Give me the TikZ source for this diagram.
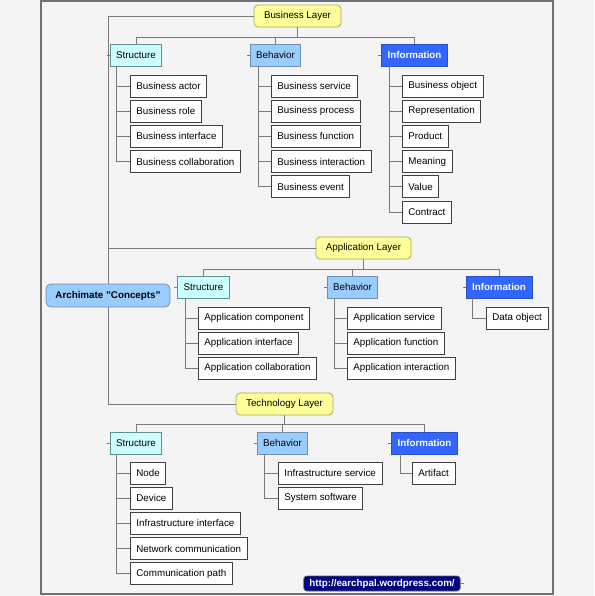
\documentclass[tikz,border=0pt]{standalone}
\usepackage{fontspec}
\setmainfont{Liberation Sans}
\usepackage{xcolor}
\usetikzlibrary{calc}
\definecolor{pagegray}{HTML}{F4F4F4}
\definecolor{framegray}{HTML}{707070}
\definecolor{linkgray}{HTML}{7A7A7A}
\definecolor{layerfill}{HTML}{FFFF99}
\definecolor{layerdraw}{HTML}{A8A860}
\definecolor{structfill}{HTML}{CCFFFF}
\definecolor{structdraw}{HTML}{5F8F8F}
\definecolor{behavfill}{HTML}{99CCFF}
\definecolor{behavdraw}{HTML}{6F8FB0}
\definecolor{infofill}{HTML}{3366FF}
\definecolor{infodraw}{HTML}{2A50C8}
\definecolor{urlfill}{HTML}{000080}
\tikzset{
  basebox/.style={inner xsep=6pt, inner ysep=0pt, minimum height=22pt,
                  font=\fontsize{9.8}{11}\selectfont, line width=0.8pt},
  leaf/.style={basebox, draw=black!75, fill=white, anchor=west},
  layer/.style={basebox, draw=layerdraw, fill=layerfill,
                rounded corners=4pt, inner xsep=10pt},
  structbox/.style={basebox, draw=structdraw, fill=structfill},
  behavbox/.style={basebox, draw=behavdraw, fill=behavfill},
  infobox/.style={basebox, draw=infodraw, fill=infofill, text=white,
                  font=\bfseries\fontsize{9.8}{11}\selectfont},
  rootbox/.style={basebox, draw=behavdraw, fill=behavfill,
                  rounded corners=5pt, minimum height=23pt,
                  minimum width=124pt,
                  font=\bfseries\fontsize{9.8}{11}\selectfont},
  urlbox/.style={basebox, draw=black!60, fill=urlfill, text=white,
                 rounded corners=3pt, minimum height=15pt,
                 inner xsep=5.5pt,
                 font=\bfseries\fontsize{9.8}{11}\selectfont},
  link/.style={draw=linkgray, line width=0.8pt},
  stub/.style={draw=linkgray, line width=0.6pt}
}
\begin{document}
\begin{tikzpicture}[x=1pt,y=-1pt]
  \path[use as bounding box, fill=pagegray] (0,0) rectangle (594,596);
  \draw[framegray, line width=1.4pt] (41,1) rectangle (553,594);

  % -------------------------------------------------------------------------
  % Root and the three layers.
  \node[layer] (bl) at (297.5,16) {Business Layer};
  \node[layer] (al) at (363.5,248) {Application Layer};
  \node[layer] (tl) at (284.5,404) {Technology Layer};
  \coordinate (spine) at (108,16);
  \draw[link] (bl.west) -- (spine) -- (108,404) -- (tl.west);
  \draw[link] (108,248) -- (al.west);
  \node[rootbox] (root) at (108,295.5) {Archimate "Concepts"};

  % -------------------------------------------------------------------------
  % Business layer.
  \node[structbox] (bs) at (136,55) {Structure};
  \node[behavbox] (bb) at (275.5,55) {Behavior};
  \node[infobox] (bi) at (414.5,55) {Information};
  \draw[link] (bl.south) -- ++(0,10) coordinate (bbus);
  \foreach \n in {bs,bb,bi}
    \draw[link] (bbus) -| (\n.north);

  \foreach \t [count=\i] in {Business actor, Business role,
      Business interface, Business collaboration}
    \node[leaf] (bs\i) at (130,86+25.2*\i-25.2) {\t};
  \foreach \t [count=\i] in {Business service, Business process,
      Business function, Business interaction, Business event}
    \node[leaf] (bb\i) at (271,86+25.2*\i-25.2) {\t};
  \foreach \t [count=\i] in {Business object, Representation, Product,
      Meaning, Value, Contract}
    \node[leaf] (bi\i) at (402,86+25.2*\i-25.2) {\t};

  \foreach \i in {1,...,4}
    \draw[link] ([xshift=7pt]bs.south west) |- (bs\i.west);
  \foreach \i in {1,...,5}
    \draw[link] ([xshift=9pt]bb.south west) |- (bb\i.west);
  \foreach \i in {1,...,6}
    \draw[link] ([xshift=8pt]bi.south west) |- (bi\i.west);

  % -------------------------------------------------------------------------
  % Application layer.
  \node[structbox] (as) at (203.5,287) {Structure};
  \node[behavbox] (ab) at (352.5,287) {Behavior};
  \node[infobox] (ai) at (499,287) {Information};
  \draw[link] (al.south) -- ++(0,10) coordinate (abus);
  \foreach \n in {as,ab,ai}
    \draw[link] (abus) -| (\n.north);

  \foreach \t [count=\i] in {Application component, Application interface,
      Application collaboration}
    \node[leaf] (as\i) at (198,318+25.2*\i-25.2) {\t};
  \foreach \t [count=\i] in {Application service, Application function,
      Application interaction}
    \node[leaf] (ab\i) at (347,318+25.2*\i-25.2) {\t};
  \node[leaf] (ai1) at (486,318) {Data object};

  \foreach \i in {1,...,3}
    \draw[link] ([xshift=8pt]as.south west) |- (as\i.west);
  \foreach \i in {1,...,3}
    \draw[link] ([xshift=8pt]ab.south west) |- (ab\i.west);
  \draw[link] ([xshift=7pt]ai.south west) |- (ai1.west);

  % -------------------------------------------------------------------------
  % Technology layer.
  \node[structbox] (ts) at (136,443) {Structure};
  \node[behavbox] (tb) at (282.5,443) {Behavior};
  \node[infobox] (ti) at (424.5,443) {Information};
  \draw[link] (tl.south) -- ++(0,9) coordinate (tbus);
  \foreach \n in {ts,tb,ti}
    \draw[link] (tbus) -| (\n.north);

  \foreach \t [count=\i] in {Node, Device, Infrastructure interface,
      Network communication, Communication path}
    \node[leaf] (ts\i) at (130,473+25.2*\i-25.2) {\t};
  \foreach \t [count=\i] in {Infrastructure service, System software}
    \node[leaf] (tb\i) at (278,473+25.2*\i-25.2) {\t};
  \node[leaf] (ti1) at (412,473) {Artifact};

  \foreach \i in {1,...,5}
    \draw[link] ([xshift=7pt]ts.south west) |- (ts\i.west);
  \foreach \i in {1,2}
    \draw[link] ([xshift=8pt]tb.south west) |- (tb\i.west);
  \draw[link] ([xshift=9pt]ti.south west) |- (ti1.west);

  % Small collapse ticks beside the group boxes.
  \foreach \n in {bs,bb,bi,as,ab,ai,ts,tb,ti}
    \draw[stub] (\n.west) -- ++(-3,0);

  % -------------------------------------------------------------------------
  \node[urlbox] (url) at (382,583.5) {http://earchpal.wordpress.com/};
  \draw[stub] (url.east) -- ++(3,0);
\end{tikzpicture}
\end{document}
